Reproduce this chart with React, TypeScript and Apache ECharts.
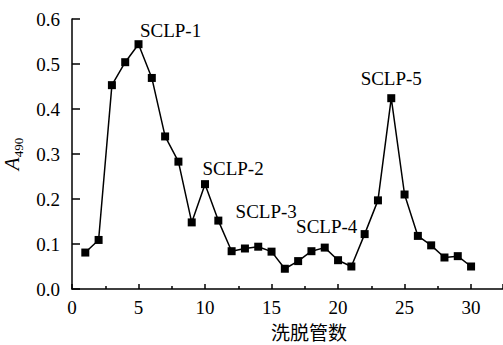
import React, { useEffect, useRef } from "react";
import * as echarts from "echarts";

const tubes = [1,2,3,4,5,6,7,8,9,10,11,12,13,14,15,16,17,18,19,20,21,22,23,24,25,26,27,28,29,30];
const absorbance = [0.081,0.109,0.453,0.504,0.544,0.469,0.339,0.283,0.148,0.233,0.152,0.084,0.090,0.094,0.083,0.045,0.062,0.084,0.092,0.064,0.050,0.122,0.197,0.424,0.210,0.118,0.097,0.070,0.073,0.050];
const peakLabels = [
  { tube: 5, text: "SCLP-1", offset: [32, -14] },
  { tube: 10, text: "SCLP-2", offset: [28, -16] },
  { tube: 14, text: "SCLP-3", offset: [8, -35] },
  { tube: 19, text: "SCLP-4", offset: [2, -21] },
  { tube: 24, text: "SCLP-5", offset: [0, -20] },
];
const xTitle = "洗脱管数";

const SERIF = "Liberation Serif";
const CJK = "Noto Sans CJK SC";

export default function App() {
  const ref = useRef<HTMLDivElement>(null);
  useEffect(() => {
    if (!ref.current) return;
    const chart = echarts.init(ref.current, undefined, { renderer: "svg" });
    const data = tubes.map((t, i) => {
      const pl = peakLabels.find((p) => p.tube === t);
      const item: any = { value: [t, absorbance[i]] };
      if (pl) {
        item.label = {
          show: true,
          position: "inside",
          offset: pl.offset,
          formatter: pl.text,
          color: "#000",
          fontFamily: SERIF,
          fontSize: 19,
        };
      }
      return item;
    });
    chart.setOption({
      animation: false,
      backgroundColor: "#fff",
      grid: { left: 72, right: 0, top: 19, bottom: 56, containLabel: false, outerBoundsMode: "none" },
      xAxis: {
        type: "value",
        min: 0,
        max: 32.4,
        interval: 5,
        axisLine: { show: true, lineStyle: { color: "#000", width: 1.5 } },
        axisTick: { show: true, inside: true, length: 5, lineStyle: { color: "#000", width: 1.5 } },
        minorTick: { show: true, splitNumber: 2, length: 3, lineStyle: { color: "#000", width: 1.5 } },
        splitLine: { show: false },
        axisLabel: { color: "#000", fontFamily: SERIF, fontSize: 19, margin: 9, showMaxLabel: false },
      },
      yAxis: {
        type: "value",
        min: 0,
        max: 0.6,
        interval: 0.1,
        axisLine: { show: true, lineStyle: { color: "#000", width: 1.5 } },
        axisTick: { show: true, inside: true, length: 8, lineStyle: { color: "#000", width: 1.5 } },
        splitLine: { show: false },
        axisLabel: {
          color: "#000",
          fontFamily: SERIF,
          fontSize: 19,
          margin: 12,
          formatter: (v: number) => v.toFixed(1),
        },
        name: "{a|A}{b|490}",
        nameLocation: "middle",
        nameGap: 50,
        nameRotate: 90,
        nameTextStyle: {
          fontFamily: SERIF,
          rich: {
            a: { fontFamily: SERIF, fontStyle: "italic", fontSize: 21, color: "#000", lineHeight: 22, verticalAlign: "bottom" },
            b: { fontFamily: SERIF, fontSize: 13, color: "#000", lineHeight: 14, verticalAlign: "bottom", padding: [0, 0, -3, 0] },
          },
        },
      },
      graphic: [
        {
          type: "text",
          left: 271,
          top: 322,
          style: { text: xTitle, fontFamily: CJK, fontSize: 19, fill: "#000" },
        },
      ],
      series: [
        {
          type: "line",
          data,
          symbol: "rect",
          symbolSize: 8,
          lineStyle: { color: "#000", width: 1.5 },
          itemStyle: { color: "#000" },
          label: { show: false },
        },
      ],
    });
    return () => chart.dispose();
  }, []);
  return (
    <div
      ref={ref}
      style={{ position: "fixed", left: 0, top: 0, width: 503, height: 345 }}
    />
  );
}
